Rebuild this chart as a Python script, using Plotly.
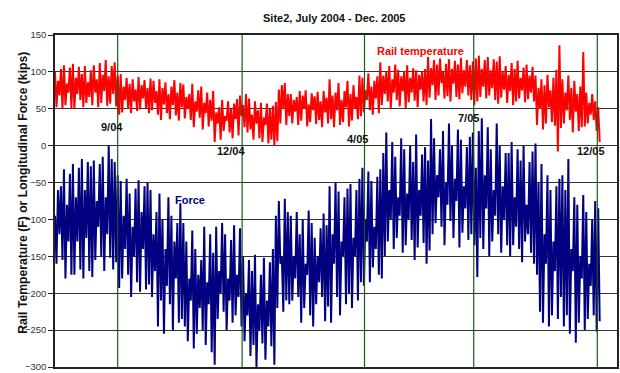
import plotly.graph_objects as go

# Daily high / low envelope samples (one pair per sample step), July 2004 - Dec. 2005
rail_temp_high = [
    100, 88, 104, 109, 84, 106,
    111, 92, 107, 97, 108, 86,
    102, 109, 90, 112, 96, 116, 94, 108, 113,
    95,
    97, 80, 92, 84, 90, 76, 93, 82, 89, 78,
    91, 88, 74, 90, 78, 86, 70, 80, 89, 72, 85,
    83, 66, 70, 84, 60, 75, 80, 58, 72, 62,
    74, 45, 52, 62, 40, 60, 50, 57,
    63, 68, 55, 70,
    64, 42, 60, 48, 58, 38, 57, 50, 54,
    59, 76, 82, 85, 70,
    70, 62, 66, 74, 68, 75, 56, 71, 67, 73, 60, 74, 65,
    90, 68, 72, 85, 62, 74, 88, 70, 82, 66, 95,
    92, 75, 98, 80, 88, 94,
    113, 95, 100, 108, 90, 110, 103, 94, 101, 109, 92, 105, 102, 96, 100, 104,
    120, 105, 116, 110, 118, 100, 111, 117, 104, 115, 110, 119, 102, 116, 109, 114,
    118, 122, 104, 116, 120, 102, 117, 114, 121, 100,
    108, 96, 112, 104, 115, 92, 106, 110, 95, 107,
    95, 78, 90, 82, 96, 75, 92, 103, 136,
    90, 72, 95, 78, 88, 70, 80, 127,
    72, 58, 70, 60, 52,
]
rail_temp_low = [
    52, 68, 50, 55, 72, 51,
    50, 70, 62, 52, 58, 66,
    55, 72, 52, 58, 74, 54, 57, 70, 53,
    42,
    45, 62, 50, 44, 60, 47, 49, 64, 51, 44,
    48, 58, 42, 35, 56, 44, 36, 55, 41, 34, 52,
    37, 50, 35, 25, 46, 38, 22, 44, 26, 34,
    5, 30, 8, 20, 34, 18, 10, 36,
    14, 40, 25, 18,
    22, 8, 30, 10, 5, 28, 3, 8, 0,
    6, 30, 50, 28, 40,
    30, 46, 28, 34, 50, 26, 32, 48, 29, 35, 25, 45, 30,
    36, 25, 48, 28, 32, 52, 26, 34, 50, 36, 40,
    45, 62, 48, 42, 64, 44,
    55, 70, 60, 50, 72, 62, 53, 74, 51, 59, 72, 61, 52, 76, 60, 55,
    65, 82, 62, 68, 85, 64, 67, 60, 84, 66, 63, 71, 80, 68, 62, 55,
    60, 66, 80, 64, 68, 78, 62, 57, 65, 76,
    58, 74, 55, 60, 64, 75, 59, 63, 72, 60,
    28, 50, 22, 30, 52, 32, 27, -8, 24,
    30, 48, 35, 18, 46, 20, 25, 26,
    30, 42, 35, 20, 5,
]
force_high = [
    -95, -60, -55, -32, -80, -38,
    -25, -70, -30, -18, -60, -22, -28,
    -20, -75, -25, -15, -70, 0, -18, -22,
    -40,
    -48, -95, -45, -65, -110, -58, -47, -90, -55, -50,
    -60, -120, -90, -65, -100, -140, -70, -95, -130, -105, -78,
    -105, -130, -180, -115, -140, -175, -155, -110, -185, -120, -145,
    -110, -170, -105, -120, -180, -128, -108, -175, -112,
    -150, -200, -155, -170, -148, -215, -175, -152, -210, -158, -140,
    -95, -75, -150, -72, -90,
    -95, -150, -90, -120, -100, -160, -88, -105, -125, -150, -112, -92, -108,
    -55, -120, -50, -62, -130, -70, -58, -52, -125, -60, -45,
    -30, -100, -35, -48, -110, -42, -32,
    -10, 18, -60, 5, -15, -70, 10, -5, -65, 0, -22, 15, -60, -12, -2, -20,
    36, 10, -40, -5, 20, -50, 30, 0, -45, 22, 8, -55, -2, 12, 18,
    -30,
    20, 37, -40, 25, -5, -60, 30, 0, -55, -10,
    -10, 5, -70, -5, -20, 0, -80, -22, -8, 3,
    -50, -25, -120, -40, -60, -130, -55, -45,
    -40, -60, -18, -140, -70,
    -80, -150, -67, -90, -160, -100, -75, -85,
]
force_low = [
    -160, -120, -155, -180, -130, -175,
    -175, -130, -168, -180, -125, -170, -178,
    -155, -110, -150, -170, -120, -152, -168, -158,
    -193,
    -180, -140, -175, -205, -150, -185, -198, -140, -195, -188,
    -205, -170, -245, -210, -255, -190, -215, -250, -180, -240, -235,
    -245, -265, -210, -275, -255, -220, -250, -270, -215, -280, -297,
    -235, -200, -225, -250, -210, -240, -230, -205, -245,
    -265, -230, -285, -270, -300, -250, -268, -290, -245, -272, -297,
    -220, -160, -225, -210, -215,
    -210, -180, -205, -240, -220, -175, -230, -245, -215, -185, -205, -238, -218,
    -240, -160, -205, -230, -150, -215, -200, -220, -150, -210, -185,
    -190, -130, -185, -165, -140, -175, -180,
    -150, -130, -100, -140, -125, -95, -145, -135, -100, -128, -155, -138, -95, -132, -160, -142,
    -120, -105, -70, -110, -135, -80, -102, -125, -75, -138, -118, -85, -128, -120, -135,
    -178,
    -125, -140, -85, -150, -130, -95, -120, -145, -100, -135,
    -150, -135, -110, -140, -158, -130, -120, -145, -160, -175,
    -225, -240, -160, -245, -230, -170, -235, -205,
    -245, -230, -255, -170, -267,
    -240, -180, -250, -235, -190, -230, -252, -238,
]

# Month markers (sample position) and their labels
month_pos = [21, 62.7, 103.7, 140.3, 181.7]
month_labels = ["9/04", "12/04", "4/05", "7/05", "12/05"]
month_label_pos = [19, 59, 101.3, 138.7, 179.7]
month_label_val = [25.8, -7.5, 8.5, 37.8, -7.5]

y_ticks = [150, 100, 50, 0, -50, -100, -150, -200, -250, -300]


def zigzag(highs, lows):
    xs, ys = [], []
    for i, (h, l) in enumerate(zip(highs, lows)):
        xs += [i, i + 0.5]
        ys += [h, l]
    return xs, ys


FONT = "Liberation Sans, Arial, sans-serif"

fig = go.Figure()

rx, ry = zigzag(rail_temp_high, rail_temp_low)
fx, fy = zigzag(force_high, force_low)

fig.add_trace(go.Scatter(x=rx, y=ry, mode="lines", line=dict(color="#ff0000", width=2),
                         name="Rail temperature", showlegend=False))
fig.add_trace(go.Scatter(x=fx, y=fy, mode="lines", line=dict(color="#000080", width=2),
                         name="Force", showlegend=False))

for p in month_pos:
    fig.add_shape(type="line", xref="x", yref="paper", x0=p, x1=p, y0=0, y1=1,
                  line=dict(color="#1a5a1a", width=1.2), layer="above")

for lab, px, pv in zip(month_labels, month_label_pos, month_label_val):
    fig.add_annotation(x=px, y=pv, xref="x", yref="y", text="<b>%s</b>" % lab,
                       showarrow=False, font=dict(family=FONT, size=11, color="#111111"))

fig.add_annotation(x=122.3, y=128.6, xref="x", yref="y", text="<b>Rail temperature</b>",
                   showarrow=False, font=dict(family=FONT, size=11, color="#ff0000"))
fig.add_annotation(x=45.2, y=-73, xref="x", yref="y", text="<b>Force</b>",
                   showarrow=False, font=dict(family=FONT, size=11, color="#000080"))

fig.add_annotation(x=0.4965, y=1.0504, xref="paper", yref="paper",
                   text="<b>Site2, July 2004 - Dec. 2005</b>", showarrow=False,
                   font=dict(family=FONT, size=11, color="#111111"), yanchor="middle")
fig.add_annotation(x=-0.0727, y=0.525, xref="paper", yref="paper", textangle=-90,
                   text="<b>Rail Temperature (F) or Longitudinal Force (kips)</b>",
                   showarrow=False, font=dict(family=FONT, size=12.2, color="#111111"))

fig.update_layout(
    width=620, height=373,
    margin=dict(l=55, r=1, t=35, b=1),
    paper_bgcolor="white", plot_bgcolor="white",
    showlegend=False,
    xaxis=dict(range=[0, 188.3], showgrid=False, zeroline=False, showticklabels=False,
               ticks="", showline=True, linecolor="#222222", linewidth=1.5, mirror=True),
    yaxis=dict(range=[-300, 150], tickvals=y_ticks, showgrid=True, gridcolor="#333333",
               gridwidth=1, zeroline=False, showline=True, linecolor="#222222", linewidth=1.5,
               mirror=True, ticks="outside", ticklen=5, tickcolor="#222222",
               ticklabeloverflow="allow",
               tickfont=dict(family=FONT, size=9.5, color="#333333")),
)

fig.write_html("out.html")
